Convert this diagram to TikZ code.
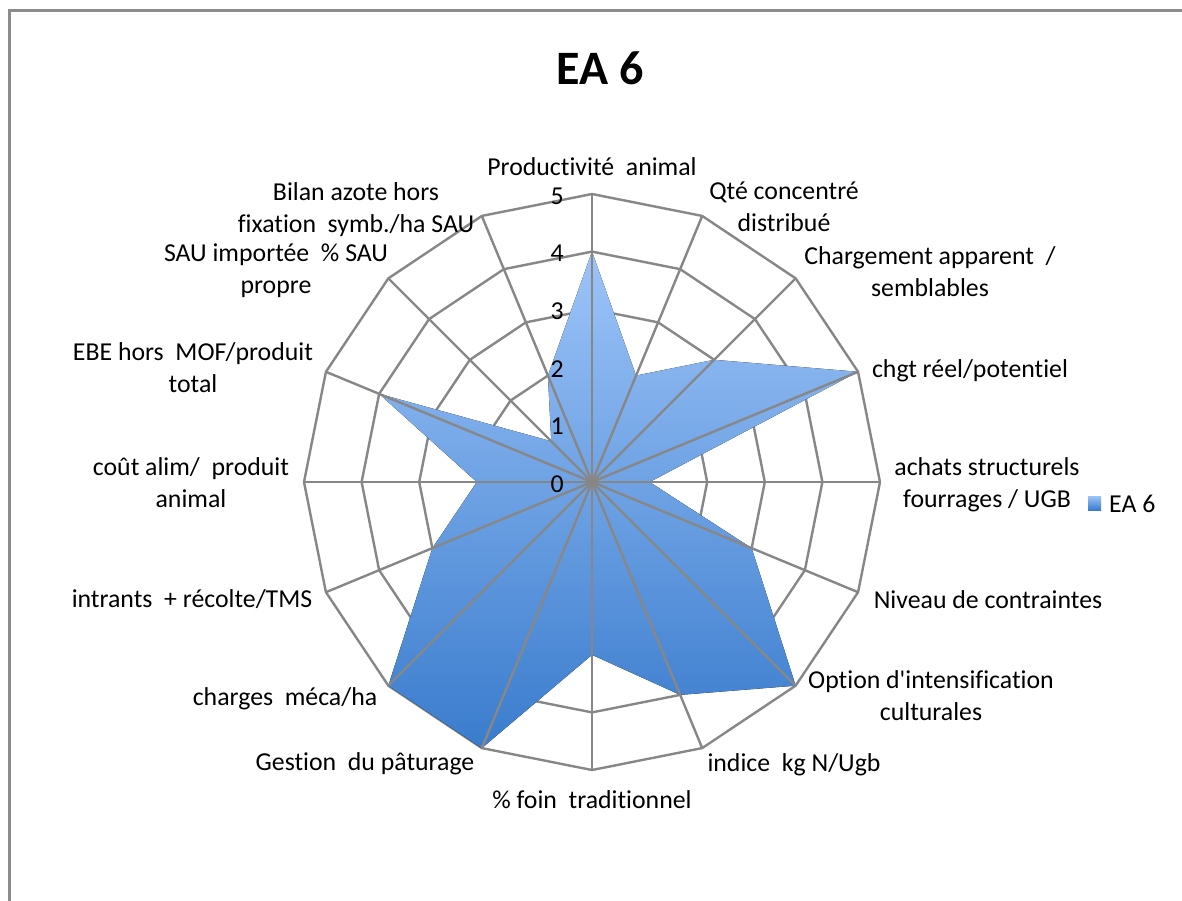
\documentclass[tikz,border=0pt]{standalone}
\usepackage{fontspec}
\setmainfont{Carlito}[Ligatures={NoCommon}]
% plain family: no TeX quote mapping, so ' stays a straight quote
\newfontfamily\chartfont{Carlito}[Ligatures={NoCommon}]
\definecolor{gridgray}{HTML}{878787}
\definecolor{framegray}{HTML}{8C8C8C}
\definecolor{fillTop}{HTML}{9DC4F8}
\definecolor{fillBot}{HTML}{3A7CCD}
\begin{document}
\begin{tikzpicture}[x=1pt,y=-1pt,
  gridline/.style={draw=gridgray, line width=2.4pt, line join=miter},
  lbl/.style={font=\chartfont\fontsize{25.8}{31.5}\selectfont, align=center, inner sep=0pt, anchor=base},
  tick/.style={font=\chartfont\fontsize{25.8}{31.5}\selectfont, inner sep=0pt, anchor=east},
  series/.style={top color=fillTop, bottom color=fillBot}]
\useasboundingbox (0,0) rectangle (1182,900);
\fill[white] (0,0) rectangle (1182,900);
% chart area frame (continues past the right and bottom edges)
\draw[framegray, line width=2.8pt] (9.7,910) -- (9.7,10.3) -- (1195,10.3);

% title
\node[font=\chartfont\fontsize{48}{56}\selectfont\bfseries, inner sep=0pt] (title) at (600,68) {EA 6};

\begin{scope}[shift={(592,482)}]
  \coordinate (o) at (0,0);
  % axis end points and series vertices (unit = 57.6)
  \foreach \k in {0,...,15}
    \coordinate (a\k) at (-90+\k*22.5:288);
  \foreach \v [count=\k from 0] in {4,2,3,5,1,3,5,4,3,5,5,3,2,4,1,2}
    \coordinate (p\k) at (-90+\k*22.5:\v*57.6);
  % value rings
  \foreach \r in {1,...,5}
    \draw[gridline] (-90:\r*57.6) \foreach \k in {1,...,15}{ -- (-90+\k*22.5:\r*57.6)} -- cycle;
  % series area with soft shadow
  \fill[black, opacity=0.18, shift={(2.5,3)}]
    (p0) -- (p1) -- (p2) -- (p3) -- (p4) -- (p5) -- (p6) -- (p7) -- (p8)
    -- (p9) -- (p10) -- (p11) -- (p12) -- (p13) -- (p14) -- (p15) -- cycle;
  \fill[series]
    (p0) -- (p1) -- (p2) -- (p3) -- (p4) -- (p5) -- (p6) -- (p7) -- (p8)
    -- (p9) -- (p10) -- (p11) -- (p12) -- (p13) -- (p14) -- (p15) -- cycle;
  % category axes
  \foreach \k in {0,...,15}
    \draw[gridline] (o) -- (a\k);
  % value axis labels
  \foreach \t in {0,...,5}
    \node[tick] (t\t) at (-28,-\t*57.6+2) {\t};
\end{scope}

% category labels (y = baseline of the last line)
\node[lbl] (l0)  at (592,175) {Productivité~~animal};
\node[lbl] (l1)  at (784,231) {Qté concentré\\distribué};
\node[lbl] (l2)  at (930,296) {Chargement apparent~~/\\semblables};
\node[lbl] (l3)  at (970,377) {chgt réel/potentiel};
\node[lbl] (l4)  at (987,507) {achats structurels\\fourrages / UGB};
\node[lbl] (l5)  at (988,608) {Niveau de contraintes};
\node[lbl] (l6)  at (931,720) {Option d'intensification\\culturales};
\node[lbl] (l7)  at (794,771) {indice~~kg N/Ugb};
\node[lbl] (l8)  at (592,808) {\% foin~~traditionnel};
\node[lbl] (l9)  at (365,770) {Gestion~~du pâturage};
\node[lbl] (l10) at (285,705) {charges~~méca/ha};
\node[lbl] (l11) at (192,607) {intrants~~+ récolte/TMS};
\node[lbl] (l12) at (191,507) {coût alim/~~produit\\animal};
\node[lbl] (l13) at (193,392) {EBE hors~~MOF/produit\\total};
\node[lbl] (l14) at (276,293) {SAU importée~~\% SAU\\propre};
\node[lbl] (l15) at (356,232) {Bilan azote hors\\fixation~~symb./ha SAU};

% legend
\fill[series] (1088,496) rectangle (1101,510);
\node[font=\chartfont\fontsize{25.8}{31.5}\selectfont, inner sep=0pt, anchor=west] (leg) at (1109,504) {EA 6};
\end{tikzpicture}
\end{document}
